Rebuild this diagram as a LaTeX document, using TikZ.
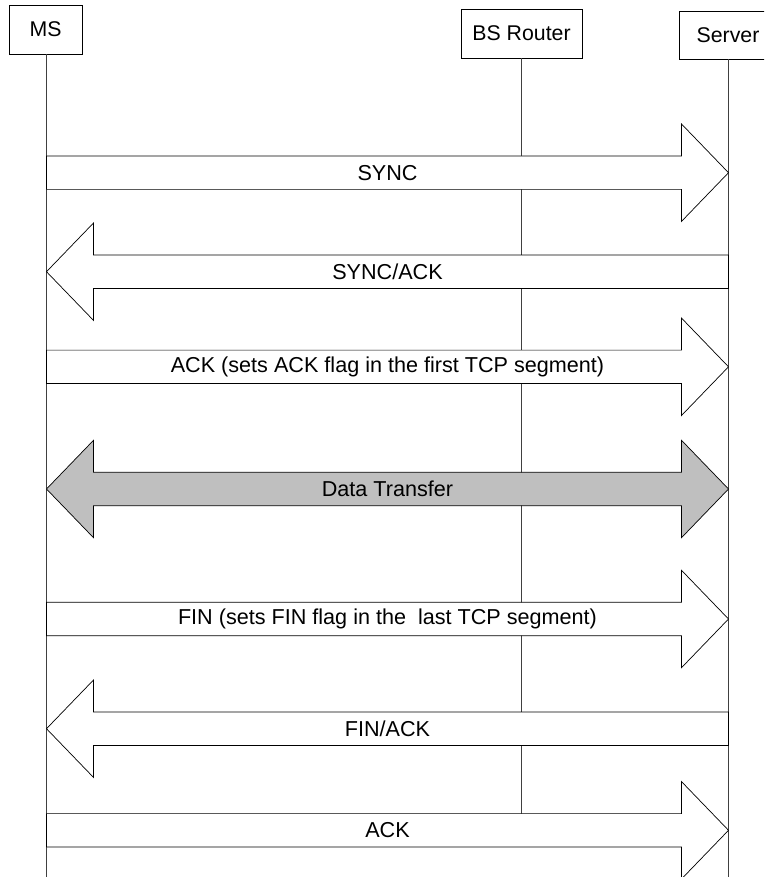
\documentclass[tikz,border=0pt]{standalone}
\usepackage{fontspec}
\setmainfont{Liberation Sans}
\usetikzlibrary{calc}
\tikzset{
  actor/.style={draw=black, line width=0.8pt, fill=white, inner sep=0pt,
    font=\fontsize{21.3}{24}\selectfont, anchor=center},
  life/.style={draw=black!75, line width=0.8pt},
  fat/.style={draw=black, line width=0.7pt, fill=white, line join=miter},
  fatgray/.style={fat, fill=black!25},
  msg/.style={font=\fontsize{21.6}{24}\selectfont, inner sep=0pt},
}
% right-pointing fat arrow from #1 (tail) to #2 (tip)
\newcommand{\fatright}[3]{%
  \draw[#3] ($(#1)+(0,-16.7)$) -- ($(#2)+(-47,-16.7)$) -- ($(#2)+(-47,-48.7)$)
    -- (#2) -- ($(#2)+(-47,48.7)$) -- ($(#2)+(-47,16.7)$) -- ($(#1)+(0,16.7)$) -- cycle;}
% left-pointing fat arrow from #1 (tail, right) to #2 (tip, left)
\newcommand{\fatleft}[3]{%
  \draw[#3] ($(#1)+(0,-16.7)$) -- ($(#2)+(47,-16.7)$) -- ($(#2)+(47,-48.7)$)
    -- (#2) -- ($(#2)+(47,48.7)$) -- ($(#2)+(47,16.7)$) -- ($(#1)+(0,16.7)$) -- cycle;}
% double-headed fat arrow between #1 (left tip) and #2 (right tip)
\newcommand{\fatboth}[3]{%
  \draw[#3] (#1) -- ($(#1)+(47,-48.7)$) -- ($(#1)+(47,-16.7)$) -- ($(#2)+(-47,-16.7)$)
    -- ($(#2)+(-47,-48.7)$) -- (#2) -- ($(#2)+(-47,48.7)$) -- ($(#2)+(-47,16.7)$)
    -- ($(#1)+(47,16.7)$) -- ($(#1)+(47,48.7)$) -- cycle;}
\begin{document}
\begin{tikzpicture}[x=1pt, y=-1pt]
  \useasboundingbox (0,0) rectangle (764,877);
  \clip (0,0) rectangle (764,877);

  % actor boxes
  \node[actor, minimum width=73pt, minimum height=49pt] (ms) at (45.5,29.5) {MS};
  \node[actor, minimum width=121pt, minimum height=49pt] (bs) at (521.5,33.5) {BS Router};
  \node[actor, minimum width=98pt, minimum height=48pt] (sv) at (728,35) {Server};

  % lifeline ends
  \coordinate (msend) at (46.5,877);
  \coordinate (bsend) at (521,813.7);
  \coordinate (svend) at (728.5,877);

  \draw[life] (ms.south -| msend) -- (msend);
  \draw[life] (bs.south -| bsend) -- (bsend);
  \draw[life] (sv.south -| svend) -- (svend);

  % message points on lifelines
  \foreach \i/\y in {1/172.7, 2/271.7, 3/366.8, 4/489, 5/619, 6/728.7, 7/830.3} {
    \coordinate (m\i) at (46.5,\y);
    \coordinate (s\i) at (728.5,\y);
  }

  \fatright{m1}{s1}{fat}
  \node[msg] (l1) at ($(m1)!0.5!(s1)$) {SYNC};

  \fatleft{s2}{m2}{fat}
  \node[msg] (l2) at ($(m2)!0.5!(s2)$) {SYNC/ACK};

  \fatright{m3}{s3}{fat}
  \node[msg] (l3) at ($(m3)!0.5!(s3)$) {ACK (sets ACK flag in the first TCP segment)};

  \fatboth{m4}{s4}{fatgray}
  \node[msg] (l4) at ($(m4)!0.5!(s4)$) {Data Transfer};

  \fatright{m5}{s5}{fat}
  \node[msg] (l5) at ($(m5)!0.5!(s5)$) {FIN (sets FIN flag in the \ last TCP segment)};

  \fatleft{s6}{m6}{fat}
  \node[msg] (l6) at ($(m6)!0.5!(s6)$) {FIN/ACK};

  \fatright{m7}{s7}{fat}
  \node[msg] (l7) at ($(m7)!0.5!(s7)$) {ACK};
\end{tikzpicture}
\end{document}
